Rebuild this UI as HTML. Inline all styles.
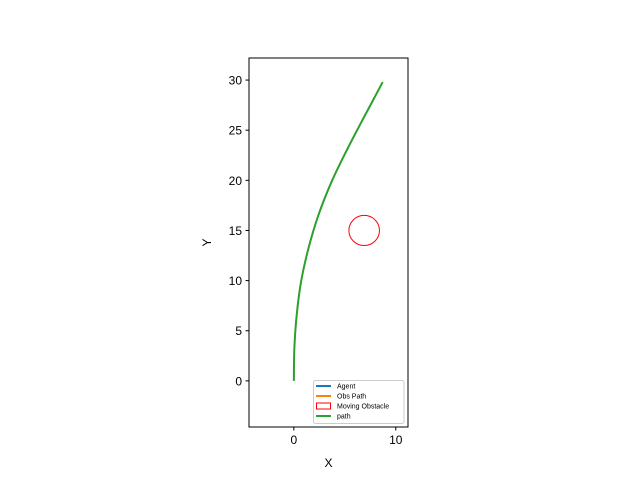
<!DOCTYPE html>
<html><head><meta charset="utf-8"><style>
body{margin:0;background:#fff;}
svg{font-family:"Liberation Sans","DejaVu Sans",sans-serif;}
</style></head><body>
<svg id="chart" width="640" height="480" viewBox="0 0 640 480">
</svg>
<script>
const pathX=[0,0.05,0.28,0.71,1.43,2.4,3.72,5.29,6.99,8.72];
const pathY=[0,3.25,6.57,9.9,13.2,16.5,19.9,23.2,26.5,29.8];
const obstacleX=[6.9];
const obstacleY=[15];
const obstacleR=[1.5];
const xTicks=[0,10];
const yTicks=[0,5,10,15,20,25,30];
const legendLabels=["Agent","Obs Path","Moving Obstacle","path"];

const L=249,R=408,T=58,B=427;
const xmin=-4.4,xmax=11.2,ymin=-4.6,ymax=32.2;
const sx=v=>L+(v-xmin)/(xmax-xmin)*(R-L);
const sy=v=>B-(v-ymin)/(ymax-ymin)*(B-T);
const NS="http://www.w3.org/2000/svg";
const svg=document.getElementById('chart');
function mk(tag,attrs,parent){const e=document.createElementNS(NS,tag);for(const k in attrs)e.setAttribute(k,attrs[k]);(parent||svg).appendChild(e);return e;}

const frame=mk('rect',{x:L,y:T,width:R-L,height:B-T,fill:'#fff',stroke:'#000','stroke-width':1});



xTicks.forEach(v=>{
  const t=mk('line',{x1:sx(v),x2:sx(v),y1:B,y2:B+3.5,stroke:'#000'});
  
  
  const l=mk('text',{x:sx(v),y:B+17,'text-anchor':'middle','font-size':12});
  l.textContent=v;
  
  
});
yTicks.forEach(v=>{
  const t=mk('line',{x1:L-3.5,x2:L,y1:sy(v),y2:sy(v),stroke:'#000'});
  
  
  const l=mk('text',{x:L-7,y:sy(v)+4.5,'text-anchor':'end','font-size':12});
  l.textContent=v;
  
  
});
const xt=mk('text',{x:(L+R)/2,y:467,'text-anchor':'middle','font-size':12});
xt.textContent='X';


const yt=mk('text',{x:211,y:(T+B)/2,'text-anchor':'middle','font-size':12,transform:`rotate(-90 211 ${(T+B)/2})`});
yt.textContent='Y';



// Catmull-Rom smoothing through data points
const P=pathX.map((x,i)=>[sx(x),sy(pathY[i])]);
let d='M'+P[0][0].toFixed(2)+' '+P[0][1].toFixed(2);
for(let i=0;i<P.length-1;i++){
  const p0=P[Math.max(i-1,0)],p1=P[i],p2=P[i+1],p3=P[Math.min(i+2,P.length-1)];
  const c1=[p1[0]+(p2[0]-p0[0])/6,p1[1]+(p2[1]-p0[1])/6];
  const c2=[p2[0]-(p3[0]-p1[0])/6,p2[1]-(p3[1]-p1[1])/6];
  d+=` C${c1[0].toFixed(2)} ${c1[1].toFixed(2)} ${c2[0].toFixed(2)} ${c2[1].toFixed(2)} ${p2[0].toFixed(2)} ${p2[1].toFixed(2)}`;
}
const p=mk('path',{d:d,fill:'none',stroke:'#2ca02c','stroke-width':2,'stroke-linejoin':'round'});



obstacleX.forEach((x,i)=>{
  const c=mk('ellipse',{cx:sx(x),cy:sy(obstacleY[i]),rx:obstacleR[i]*(R-L)/(xmax-xmin),ry:obstacleR[i]*(B-T)/(ymax-ymin),fill:'none',stroke:'red','stroke-width':1});
  
  
});

const lg=mk('g',{});


mk('rect',{x:313.5,y:380.5,width:90.5,height:43,fill:'#fff',stroke:'#ccc','stroke-width':1,rx:2},lg);
const colors=['#1f77b4','#ff7f0e','red','#2ca02c'];
legendLabels.forEach((lab,i)=>{
  const y=386+i*10;
  if(i===2){
    const r=mk('rect',{x:316.5,y:y-3,width:14,height:6,fill:'none',stroke:'red','stroke-width':1},lg);
    
    
  } else {
    const s=mk('line',{x1:316,x2:331,y1:y,y2:y,stroke:colors[i],'stroke-width':2},lg);
    
    
  }
  const t=mk('text',{x:337,y:y+2.5,'font-size':7},lg);
  t.textContent=lab;
  
  
});
</script>
</body></html>
